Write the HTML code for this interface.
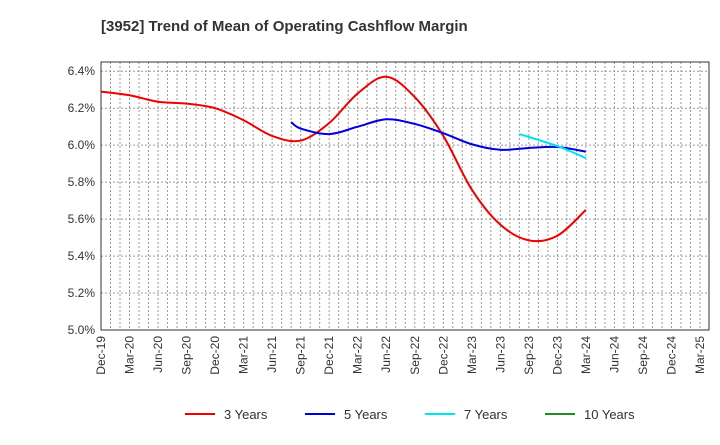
<!DOCTYPE html>
<html><head><meta charset="utf-8"><style>
body{margin:0;background:#fff;font-family:"Liberation Sans",sans-serif}
</style></head><body>
<svg id="c" width="720" height="440" xmlns="http://www.w3.org/2000/svg" font-family="Liberation Sans, sans-serif"></svg>
<script>
const xLabels=["Dec-19","Mar-20","Jun-20","Sep-20","Dec-20","Mar-21","Jun-21","Sep-21","Dec-21","Mar-22","Jun-22","Sep-22","Dec-22","Mar-23","Jun-23","Sep-23","Dec-23","Mar-24","Jun-24","Sep-24","Dec-24","Mar-25"];
const yTicks=[5.0,5.2,5.4,5.6,5.8,6.0,6.2,6.4];
// month index (0 = Dec-19)
const m3=[0,3,6,9,12,15,18,21,24,27,30,33,36,39,42,45,48,51];
const v3=[6.29,6.27,6.235,6.225,6.20,6.135,6.05,6.025,6.12,6.28,6.37,6.26,6.05,5.76,5.57,5.485,5.51,5.65];
const m5=[20,21,24,27,30,33,36,39,42,45,48,51];
const v5=[6.125,6.09,6.06,6.10,6.14,6.115,6.065,6.005,5.975,5.985,5.99,5.965];
const m7=[44,48,51];
const v7=[6.06,5.995,5.93];
const m10=[], v10=[];
const L=101,R=709,T=62,B=330,ymin=5.0,ymax=6.45,PX=599/63;
const xs=m=>L+PX*m, ys=v=>B-(B-T)*(v-ymin)/(ymax-ymin);
const svg=document.getElementById('c'),NS="http://www.w3.org/2000/svg";
function mk(t,a,p){const e=document.createElementNS(NS,t);for(const k in a)e.setAttribute(k,a[k]);(p||svg).appendChild(e);return e;}
const title=mk('text',{x:101,y:31,'font-size':15,'font-weight':'bold',fill:'#333'});


title.textContent="[3952]  Trend of Mean of Operating Cashflow Margin";
const grid=mk('g',{});


for(let m=1;xs(m)<R-1;m++)mk('line',{x1:xs(m),x2:xs(m),y1:T,y2:B,stroke:'#999','stroke-dasharray':'2,2','stroke-width':1},grid);
yTicks.forEach(v=>{if(v>ymin)mk('line',{x1:L,x2:R,y1:ys(v),y2:ys(v),stroke:'#999','stroke-dasharray':'2,2'},grid);
 const t=mk('text',{x:L-6,y:ys(v)+4,'text-anchor':'end','font-size':12,fill:'#333'});
 
 
 t.textContent=v.toFixed(1)+"%";});
xLabels.forEach((s,i)=>{const x=xs(i*3);const t=mk('text',{transform:`translate(${x+4},${B+6}) rotate(-90)`,'text-anchor':'end','font-size':12,fill:'#333'});
 
 
 t.textContent=s;});
mk('rect',{x:L,y:T,width:R-L,height:B-T,fill:'none',stroke:'#333'});
function path(ms,vs){const p=ms.map((m,i)=>[xs(m),ys(vs[i])]);if(p.length<2)return "";let d=`M${p[0][0]},${p[0][1]}`;
 for(let i=0;i<p.length-1;i++){const p0=p[i-1]||p[i],p1=p[i],p2=p[i+1],p3=p[i+2]||p2;
 d+=` C${p1[0]+(p2[0]-p0[0])/6},${p1[1]+(p2[1]-p0[1])/6} ${p2[0]-(p3[0]-p1[0])/6},${p2[1]-(p3[1]-p1[1])/6} ${p2[0]},${p2[1]}`;}return d;}
const series=[[m3,v3,'#ee0000','3 Years'],[m5,v5,'#0000dd','5 Years'],[m7,v7,'#00e5ee','7 Years'],[m10,v10,'#228b22','10 Years']];
series.forEach((s,i)=>{const d=path(s[0],s[1]);if(d){const e=mk('path',{d,fill:'none',stroke:s[2],'stroke-width':2});
 
 }
 const lx=185+i*120;const g=mk('g',{});
 
 
 mk('line',{x1:lx,x2:lx+30,y1:414,y2:414,stroke:s[2],'stroke-width':2},g);
 const t=mk('text',{x:lx+39,y:419,'font-size':13,fill:'#333'},g);t.textContent=s[3];});
</script>
</body></html>
